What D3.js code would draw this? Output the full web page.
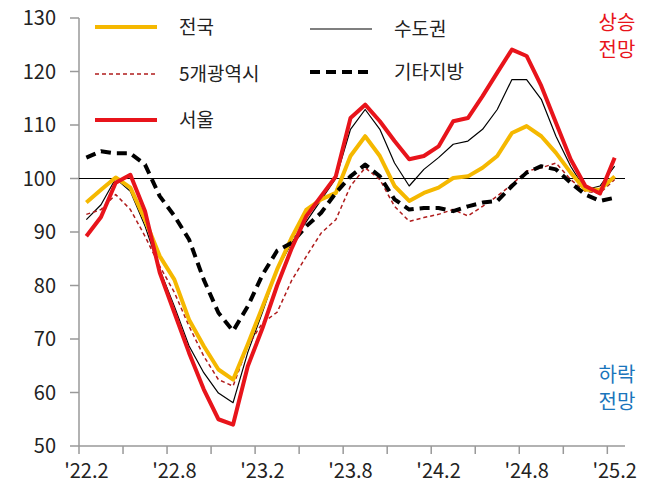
<!DOCTYPE html>
<html><head><meta charset="utf-8">
<script src="https://cdn.jsdelivr.net/npm/d3@7"></script>
<style>body{margin:0;background:#fff}text{font-family:"Noto Sans CJK KR","Noto Sans",sans-serif}</style>
</head><body><svg id="c" width="657" height="500"></svg>
<script>
// monthly, '22.2 .. '25.2
const months = d3.range(37).map(i => { const m = 1 + i; return { y: 22 + Math.floor(m / 12), m: m % 12 + 1 } })
const nation = [95.5, 97.9, 100.2, 98.3, 92.3, 85.5, 81.1, 73.6, 68.7, 64.3, 62.4, 69, 76, 83, 89, 94.2, 96.1, 97.3, 104.2, 107.9, 104.2, 98.6, 95.8, 97.3, 98.3, 100.1, 100.4, 102, 104.2, 108.5, 109.8, 107.9, 104.8, 101.1, 97.9, 97.9, 100.4]
const capital = [92.3, 95.1, 100, 97.6, 91.1, 83, 76.1, 68.7, 63.7, 59.9, 58.1, 67.5, 75, 83, 88, 92, 96, 100, 109.2, 112.9, 109.2, 102.9, 98.6, 101.7, 103.9, 106.4, 107, 109.2, 112.9, 118.5, 118.5, 114.8, 107.9, 102.3, 97.9, 98.6, 102.3]
const metro5 = [93.3, 94.2, 97, 94.2, 89.2, 83.6, 78.7, 72.4, 66.8, 62.4, 61.2, 68.7, 73, 75, 81, 85.5, 89.8, 92.3, 98.6, 102, 99.8, 94.8, 92, 92.7, 93.3, 94.2, 93, 94.8, 96.7, 98.9, 101.4, 102, 102.9, 99.8, 97.6, 97.3, 99.8]
const others = [103.9, 105.1, 104.7, 104.7, 102.6, 96.7, 93, 88.6, 81.1, 74.9, 71.5, 76.1, 82, 86.5, 88, 91.1, 93.6, 97.3, 100.4, 102.6, 100.4, 96.1, 94.2, 94.5, 94.5, 93.9, 94.8, 95.5, 95.8, 98.6, 101.1, 102.3, 101.7, 99.2, 97, 95.8, 96.4]
const seoul = [89.2, 92.8, 99.2, 100.7, 93.9, 82.4, 74.9, 67.4, 60.6, 55, 54, 64.9, 72, 80, 87, 93, 96.7, 100.4, 111.3, 113.8, 110.7, 107, 103.6, 104.2, 106, 110.7, 111.3, 115.4, 119.8, 124.1, 122.9, 117.3, 110.4, 103.6, 98.6, 97.2, 103.9]
const yTicks = [50, 60, 70, 80, 90, 100, 110, 120, 130]

const series = [
  { name: '수도권', values: capital, color: '#000', width: 1.2, dash: null },
  { name: '5개광역시', values: metro5, color: '#b01c1c', width: 1.5, dash: '4,3' },
  { name: '전국', values: nation, color: '#f5b800', width: 4, dash: null },
  { name: '기타지방', values: others, color: '#000', width: 4, dash: '10,6' },
  { name: '서울', values: seoul, color: '#e8141b', width: 4, dash: null }
]

const svg = d3.select('#c')
const x = d3.scaleLinear().domain([-0.5, 36.5]).range([79, 622])
const y = d3.scaleLinear().domain([50, 130]).range([446, 18])
const grey = '#999'

// axes
svg.append('line').attr('x1', 79).attr('x2', 79).attr('y1', 18).attr('y2', 446).attr('stroke', grey).attr('stroke-width', 1.5)
svg.append('line').attr('x1', 79).attr('x2', 625).attr('y1', 446).attr('y2', 446).attr('stroke', grey).attr('stroke-width', 1.5)
yTicks.forEach(t => {
  svg.append('line').attr('x1', 70).attr('x2', 79).attr('y1', y(t)).attr('y2', y(t)).attr('stroke', grey).attr('stroke-width', 1.5)
  svg.append('text').attr('x', 56).attr('y', y(t) + 7).attr('text-anchor', 'end')
    .attr('font-size', 20).attr('fill', '#222').text(t)
})
for (let i = -0.5; i <= 36.5; i += 3) {
  svg.append('line').attr('x1', x(i)).attr('x2', x(i)).attr('y1', 446).attr('y2', 454).attr('stroke', grey).attr('stroke-width', 1.5)
}
months.forEach((d, i) => {
  if (i % 6 !== 0) return
  svg.append('text').attr('x', x(i)).attr('y', 478).attr('text-anchor', 'middle')
    .attr('font-size', 20).attr('fill', '#222').text("'" + d.y + '.' + d.m)
})

// baseline 100
svg.append('line').attr('x1', 79).attr('x2', 625).attr('y1', y(100)).attr('y2', y(100)).attr('stroke', '#000').attr('stroke-width', 1.2)

const line = d3.line().x((d, i) => x(i)).y(d => y(d))
series.forEach(s => {
  svg.append('path').attr('d', line(s.values)).attr('fill', 'none')
    .attr('stroke', s.color).attr('stroke-width', s.width)
    .attr('stroke-dasharray', s.dash).attr('stroke-linejoin', 'round')
})

// legend
const legend = [
  { s: series[2], x: 95, y: 27 }, { s: series[0], x: 310, y: 29 },
  { s: series[1], x: 95, y: 74 }, { s: series[3], x: 310, y: 72 },
  { s: series[4], x: 95, y: 120 }
]
legend.forEach(l => {
  svg.append('line').attr('x1', l.x).attr('x2', l.x + 62).attr('y1', l.y).attr('y2', l.y)
    .attr('stroke', l.s.color).attr('stroke-width', l.s.width).attr('stroke-dasharray', l.s.dash)
  svg.append('text').attr('x', l.x + 84).attr('y', l.y + 7).attr('font-size', 19).attr('fill', '#222').text(l.s.name)
})

// annotations
const ann = [{ t: ['상승', '전망'], c: '#e8141b', y: 30 }, { t: ['하락', '전망'], c: '#1a75bc', y: 382 }]
ann.forEach(a => a.t.forEach((t, k) => {
  svg.append('text').attr('x', 617).attr('y', a.y + k * 27).attr('text-anchor', 'middle')
    .attr('font-size', 20).attr('fill', a.c).text(t)
}))
</script></body></html>
